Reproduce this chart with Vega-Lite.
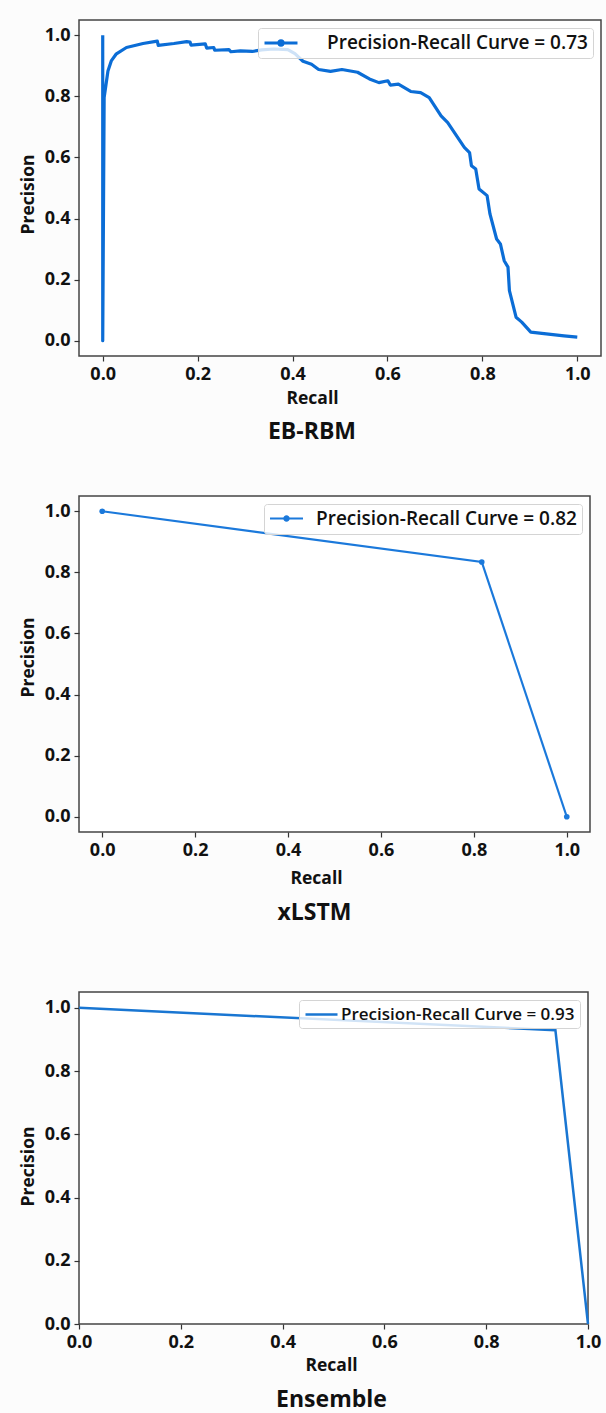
{
  "$schema": "https://vega.github.io/schema/vega-lite/v6.json",
  "background": "#fcfcfc",
  "padding": {"left": 18, "top": 19, "right": 4, "bottom": 0},
  "config": {
    "font": "Open Sans",
    "view": {"stroke": "#444444", "strokeWidth": 1.5, "fill": "#ffffff"},
    "axis": {"grid": false, "domain": false, "tickColor": "#333333", "tickWidth": 1.2, "tickSize": 5, "labelFont": "Open Sans", "labelFontSize": 18, "labelFontWeight": "bold", "labelColor": "#111111", "titleFont": "Open Sans", "titleFontSize": 17.5, "titleFontWeight": "bold", "titleColor": "#111111", "labelPadding": 4, "labelFlush": false},
    "title": {"orient": "bottom", "fontSize": 23, "fontWeight": "bold", "font": "Open Sans", "color": "#111111", "anchor": "middle"},
    "legend": {"orient": "top-right", "offset": 8, "padding": 5, "fillColor": "rgba(255,255,255,0.8)", "strokeColor": "#d4d4d4", "cornerRadius": 3, "labelFont": "Open Sans", "labelFontWeight": 600, "labelColor": "#111111", "labelLimit": 500}
  },
  "datasets": {
    "ebrbm": [
      {"i": 1, "recall": 0.0, "precision": 1.0},
      {"i": 2, "recall": 0.0, "precision": 0.0},
      {"i": 3, "recall": 0.003, "precision": 0.796},
      {"i": 4, "recall": 0.011, "precision": 0.883},
      {"i": 5, "recall": 0.018, "precision": 0.916},
      {"i": 6, "recall": 0.028, "precision": 0.938},
      {"i": 7, "recall": 0.05, "precision": 0.96},
      {"i": 8, "recall": 0.085, "precision": 0.973},
      {"i": 9, "recall": 0.115, "precision": 0.981},
      {"i": 10, "recall": 0.117, "precision": 0.967},
      {"i": 11, "recall": 0.15, "precision": 0.973},
      {"i": 12, "recall": 0.177, "precision": 0.979},
      {"i": 13, "recall": 0.184, "precision": 0.978},
      {"i": 14, "recall": 0.186, "precision": 0.968},
      {"i": 15, "recall": 0.216, "precision": 0.972},
      {"i": 16, "recall": 0.219, "precision": 0.958},
      {"i": 17, "recall": 0.234, "precision": 0.96},
      {"i": 18, "recall": 0.236, "precision": 0.951},
      {"i": 19, "recall": 0.266, "precision": 0.953},
      {"i": 20, "recall": 0.27, "precision": 0.946},
      {"i": 21, "recall": 0.29, "precision": 0.949},
      {"i": 22, "recall": 0.315, "precision": 0.947},
      {"i": 23, "recall": 0.335, "precision": 0.952},
      {"i": 24, "recall": 0.36, "precision": 0.955},
      {"i": 25, "recall": 0.39, "precision": 0.953},
      {"i": 26, "recall": 0.405, "precision": 0.94},
      {"i": 27, "recall": 0.422, "precision": 0.915},
      {"i": 28, "recall": 0.44, "precision": 0.905},
      {"i": 29, "recall": 0.455, "precision": 0.888},
      {"i": 30, "recall": 0.48, "precision": 0.882},
      {"i": 31, "recall": 0.504, "precision": 0.888},
      {"i": 32, "recall": 0.537, "precision": 0.879},
      {"i": 33, "recall": 0.562, "precision": 0.857},
      {"i": 34, "recall": 0.582, "precision": 0.845},
      {"i": 35, "recall": 0.601, "precision": 0.851},
      {"i": 36, "recall": 0.606, "precision": 0.837},
      {"i": 37, "recall": 0.623, "precision": 0.84},
      {"i": 38, "recall": 0.649, "precision": 0.816},
      {"i": 39, "recall": 0.67, "precision": 0.812},
      {"i": 40, "recall": 0.688, "precision": 0.796},
      {"i": 41, "recall": 0.713, "precision": 0.736},
      {"i": 42, "recall": 0.727, "precision": 0.714},
      {"i": 43, "recall": 0.762, "precision": 0.633},
      {"i": 44, "recall": 0.773, "precision": 0.616},
      {"i": 45, "recall": 0.777, "precision": 0.573},
      {"i": 46, "recall": 0.786, "precision": 0.562},
      {"i": 47, "recall": 0.793, "precision": 0.497},
      {"i": 48, "recall": 0.81, "precision": 0.475},
      {"i": 49, "recall": 0.816, "precision": 0.415},
      {"i": 50, "recall": 0.83, "precision": 0.333},
      {"i": 51, "recall": 0.838, "precision": 0.317},
      {"i": 52, "recall": 0.846, "precision": 0.262},
      {"i": 53, "recall": 0.854, "precision": 0.241},
      {"i": 54, "recall": 0.857, "precision": 0.164},
      {"i": 55, "recall": 0.871, "precision": 0.077},
      {"i": 56, "recall": 0.883, "precision": 0.061},
      {"i": 57, "recall": 0.902, "precision": 0.028},
      {"i": 58, "recall": 0.972, "precision": 0.016},
      {"i": 59, "recall": 1.0, "precision": 0.012}
    ],
    "xlstm": [
      {"i": 1, "recall": 0.0, "precision": 1.0},
      {"i": 2, "recall": 0.817, "precision": 0.834},
      {"i": 3, "recall": 1.0, "precision": 0.0}
    ],
    "ensemble": [
      {"i": 1, "recall": 0.0, "precision": 1.0},
      {"i": 2, "recall": 0.936, "precision": 0.929},
      {"i": 3, "recall": 1.0, "precision": 0.0}
    ]
  },
  "spacing": 50,
  "resolve": {"scale": {"color": "independent", "x": "independent", "y": "independent"}, "legend": {"color": "independent"}, "axis": {"x": "independent", "y": "independent"}},
  "vconcat": [
    {
      "resolve": {"scale": {"color": "independent"}, "legend": {"color": "independent"}},
      "hconcat": [
        {
          "width": 522,
          "height": 336,
          "data": {"name": "ebrbm"},
          "title": {"text": "EB-RBM", "offset": 14, "dx": -28},
          "mark": {"type": "line", "strokeWidth": 3.2, "strokeJoin": "round"},
          "encoding": {
            "x": {"field": "recall", "type": "quantitative", "scale": {"domain": [-0.05, 1.05], "nice": false, "zero": false}, "axis": {"values": [0, 0.2, 0.4, 0.6, 0.8, 1.0], "format": ".1f", "title": "Recall", "titlePadding": 6, "titleX": 233}},
            "y": {"field": "precision", "type": "quantitative", "scale": {"domain": [-0.05, 1.05], "nice": false, "zero": false}, "axis": {"values": [0, 0.2, 0.4, 0.6, 0.8, 1.0], "format": ".1f", "title": "Precision", "titlePadding": 7, "titleY": 174}},
            "order": {"field": "i", "type": "quantitative"},
            "color": {"datum": "Precision-Recall Curve = 0.73", "type": "nominal", "scale": {"range": ["#0b6dd6"]}, "legend": {"title": null, "symbolType": "M-2,0H2M-0.26,0A0.26,0.26,0,1,1,0.26,0A0.26,0.26,0,1,1,-0.26,0Z", "symbolSize": 272, "symbolStrokeWidth": 3, "symbolFillColor": "#0b6dd6", "symbolOffset": 8, "labelFontSize": 19, "labelOffset": 36}}
          }
        }
      ]
    },
    {
      "spacing": 65,
      "resolve": {"scale": {"color": "independent", "x": "independent", "y": "independent"}, "legend": {"color": "independent"}, "axis": {"x": "independent", "y": "independent"}},
      "vconcat": [
        {
          "resolve": {"scale": {"color": "independent"}, "legend": {"color": "independent"}},
          "hconcat": [
            {
              "width": 511,
              "height": 336,
              "data": {"name": "xlstm"},
              "title": {"text": "xLSTM", "offset": 15, "dx": -20},
              "mark": {"type": "line", "strokeWidth": 2.2, "point": {"filled": true, "size": 32}},
              "encoding": {
                "x": {"field": "recall", "type": "quantitative", "scale": {"domain": [-0.05, 1.05], "nice": false, "zero": false}, "axis": {"values": [0, 0.2, 0.4, 0.6, 0.8, 1.0], "format": ".1f", "title": "Recall", "titlePadding": 10, "titleX": 237}},
                "y": {"field": "precision", "type": "quantitative", "scale": {"domain": [-0.05, 1.05], "nice": false, "zero": false}, "axis": {"values": [0, 0.2, 0.4, 0.6, 0.8, 1.0], "format": ".1f", "title": "Precision", "titlePadding": 7, "titleY": 161}},
                "order": {"field": "i", "type": "quantitative"},
                "color": {"datum": "Precision-Recall Curve = 0.82", "type": "nominal", "scale": {"range": ["#1b79db"]}, "legend": {"title": null, "symbolType": "M-2,0H2M-0.26,0A0.26,0.26,0,1,1,0.26,0A0.26,0.26,0,1,1,-0.26,0Z", "symbolSize": 272, "symbolStrokeWidth": 2.2, "symbolFillColor": "#1b79db", "symbolOffset": 8, "labelFontSize": 19, "labelOffset": 20}}
              }
            }
          ]
        },
        {
          "resolve": {"scale": {"color": "independent"}, "legend": {"color": "independent"}},
          "hconcat": [
            {
              "width": 509,
              "height": 332,
              "data": {"name": "ensemble"},
              "title": {"text": "Ensemble", "offset": 15, "dx": -2},
              "mark": {"type": "line", "strokeWidth": 2.5},
              "encoding": {
                "x": {"field": "recall", "type": "quantitative", "scale": {"domain": [0, 1], "nice": false, "zero": false}, "axis": {"values": [0, 0.2, 0.4, 0.6, 0.8, 1.0], "format": ".1f", "title": "Recall", "titlePadding": 5, "titleX": 252}},
                "y": {"field": "precision", "type": "quantitative", "scale": {"domain": [0, 1.05], "nice": false, "zero": false}, "axis": {"values": [0, 0.2, 0.4, 0.6, 0.8, 1.0], "format": ".1f", "title": "Precision", "titlePadding": 7, "titleY": 174}},
                "order": {"field": "i", "type": "quantitative"},
                "color": {"datum": "Precision-Recall Curve = 0.93", "type": "nominal", "scale": {"range": ["#1976d2"]}, "legend": {"title": null, "symbolType": "M-2,0H2", "symbolSize": 256, "symbolStrokeWidth": 2.5, "symbolOffset": 8, "labelFontSize": 17, "labelOffset": 10}}
              }
            }
          ]
        }
      ]
    }
  ]
}
